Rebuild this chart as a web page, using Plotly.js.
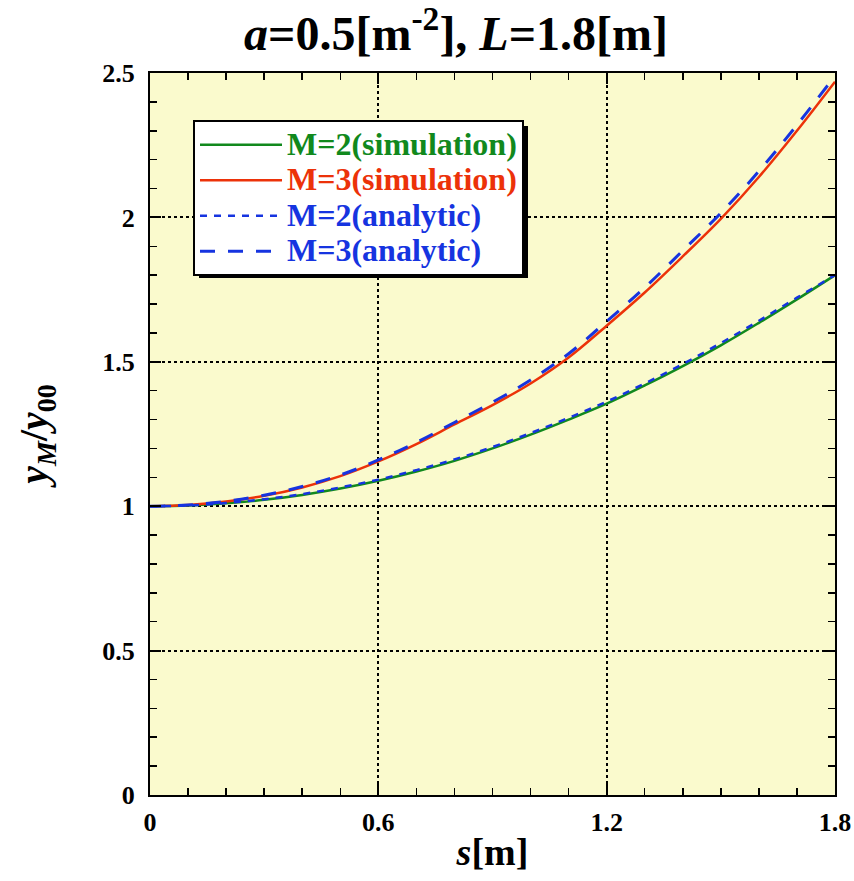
<!DOCTYPE html>
<html>
<head>
<meta charset="utf-8">
<script src="https://cdn.plot.ly/plotly-3.0.1.min.js"></script>
<style>html,body{margin:0;padding:0;background:#fff;}#chart{width:854px;height:881px;}</style>
</head>
<body>
<div id="chart"></div>
<script>
// Data
const s = [0, 0.1, 0.2, 0.3, 0.4, 0.5, 0.6, 0.7, 0.8, 0.9, 1.0, 1.1, 1.2, 1.3, 1.4, 1.5, 1.6, 1.7, 1.8];
const m2Simulation = [1.0, 1.0025, 1.01, 1.022, 1.039, 1.061, 1.088, 1.12, 1.157, 1.2, 1.248, 1.3, 1.355, 1.418, 1.485, 1.557, 1.635, 1.716, 1.80];
const m3Simulation = [1.0, 1.004, 1.016, 1.036, 1.065, 1.104, 1.155, 1.215, 1.283, 1.35, 1.425, 1.515, 1.625, 1.74, 1.865, 1.995, 2.14, 2.30, 2.47];
const m2Analytic = [1.0, 1.0025, 1.011, 1.024, 1.042, 1.065, 1.092, 1.125, 1.162, 1.205, 1.253, 1.306, 1.362, 1.425, 1.492, 1.565, 1.642, 1.722, 1.80];
const m3Analytic = [1.0, 1.004, 1.017, 1.038, 1.068, 1.108, 1.16, 1.221, 1.29, 1.36, 1.437, 1.528, 1.64, 1.757, 1.885, 2.015, 2.16, 2.32, 2.49];
const seriesNames = ["M=2(simulation)", "M=3(simulation)", "M=2(analytic)", "M=3(analytic)"];
const xTickVals = [0, 0.6, 1.2, 1.8];
const xTickText = ["0", "0.6", "1.2", "1.8"];
const yTickVals = [0, 0.5, 1, 1.5, 2, 2.5];
const yTickText = ["0", "0.5", "1", "1.5", "2", "2.5"];

const GREEN = '#11891d', RED = '#ec3209', BLUE = '#1634e0';
const FONT = 'Liberation Serif, Times New Roman, serif';

function nm(name, color) { return '<span style="color:' + color + ';font-size:32px"><b>' + name + '</b></span>'; }

const traces = [
  {x: s, y: m2Simulation, name: nm(seriesNames[0], GREEN), mode: 'lines', line: {color: GREEN, width: 2.5, shape: 'spline'}},
  {x: s, y: m3Simulation, name: nm(seriesNames[1], RED), mode: 'lines', line: {color: RED, width: 2.5, shape: 'spline'}},
  {x: s, y: m2Analytic, name: nm(seriesNames[2], BLUE), mode: 'lines', line: {color: BLUE, width: 2.5, dash: '7px,7px', shape: 'spline'}},
  {x: s, y: m3Analytic, name: nm(seriesNames[3], BLUE), mode: 'lines', line: {color: BLUE, width: 3, dash: '15px,13px', shape: 'spline'}}
];

const axisCommon = {
  showline: true, linecolor: '#000', linewidth: 2, mirror: 'ticks',
  ticks: 'inside', ticklen: 11, tickwidth: 2, tickcolor: '#000',
  showgrid: true, gridcolor: '#000', gridwidth: 2, griddash: 'dot',
  zeroline: false,
  tickfont: {family: FONT, size: 26, color: '#000', weight: 700},
  tickmode: 'array'
};

const layout = {
  width: 854, height: 881,
  margin: {l: 150, r: 19, t: 73, b: 86},
  paper_bgcolor: '#fff',
  plot_bgcolor: '#fafacd',
  font: {family: FONT, color: '#000', weight: 700},
  title: {
    text: '<b><i>a</i>=0.5[m<sup>-2</sup>], <i>L</i>=1.8[m]</b>',
    font: {family: FONT, size: 48, color: '#000', weight: 700},
    x: 0.534, xanchor: 'center', xref: 'container', y: 0.962, yanchor: 'middle', yref: 'container'
  },
  xaxis: Object.assign({}, axisCommon, {
    range: [0, 1.8], tickvals: xTickVals, ticktext: xTickText, ticklabelstandoff: 3,
    minor: {dtick: 0.1, ticks: 'inside', ticklen: 7, tickwidth: 1.5, tickcolor: '#000', showgrid: false},
    title: {text: '<b><i>s</i>[m]</b>', font: {family: FONT, size: 38, color: '#000', weight: 700}, standoff: 2}
  }),
  yaxis: Object.assign({}, axisCommon, {
    range: [0, 2.5], tickvals: yTickVals, ticktext: yTickText, ticklabelstandoff: 8,
    minor: {dtick: 0.1, ticks: 'inside', ticklen: 7, tickwidth: 1.5, tickcolor: '#000', showgrid: false},
    title: {text: '<b><i>y<sub>M</sub></i>/<i>y</i><sub>00</sub></b>', font: {family: FONT, size: 40, color: '#000', weight: 700}, standoff: 42}
  }),
  showlegend: true,
  legend: {
    x: (193 - 150) / 685, xanchor: 'left', y: (795 - 120) / 722, yanchor: 'top',
    bgcolor: '#fff', bordercolor: '#000', borderwidth: 2,
    font: {family: FONT, size: 25, weight: 700},
    itemwidth: 82, tracegroupgap: 0
  },
  shapes: [
    {type: 'rect', xref: 'paper', yref: 'paper', layer: 'above',
     x0: (199 - 150) / 685, x1: (528 - 150) / 685,
     y0: (795 - 278) / 722, y1: (795 - 126) / 722,
     fillcolor: '#000', line: {width: 0}}
  ]
};

Plotly.newPlot('chart', traces, layout, {displayModeBar: false, staticPlot: true});
</script>
</body>
</html>
